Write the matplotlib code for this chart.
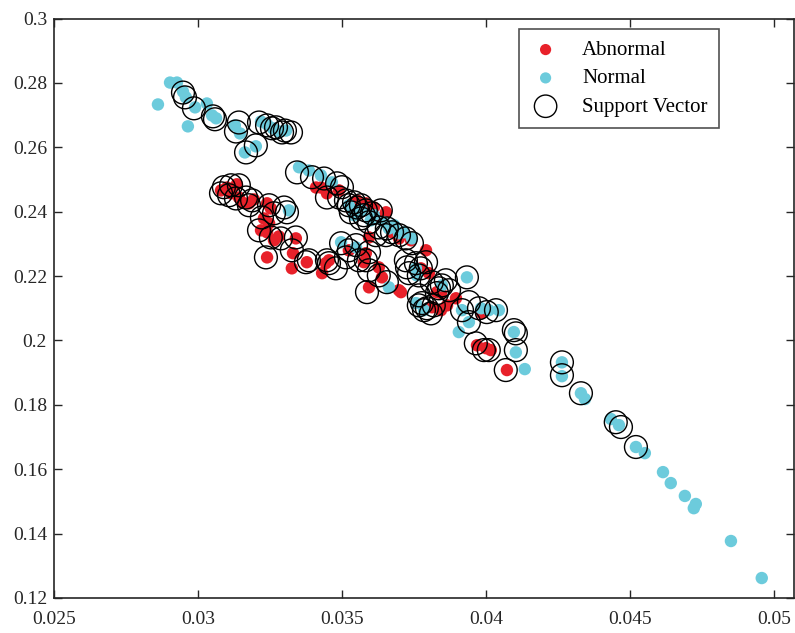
import matplotlib
matplotlib.use("Agg")
import matplotlib.pyplot as plt
from matplotlib.ticker import FixedLocator

plt.rcParams['font.family'] = ['Liberation Serif', 'DejaVu Serif']

# Normal (cyan) samples
normal_x = [0.02861, 0.02903, 0.02927, 0.02965, 0.02948, 0.02958, 0.02990, 0.03031, 0.03049, 0.03063,
            0.03128, 0.03146, 0.03163, 0.03201, 0.03219, 0.03240, 0.03260, 0.03281, 0.03306, 0.03351,
            0.03385, 0.03427, 0.03465, 0.03316, 0.03497, 0.03549, 0.03569, 0.03542, 0.03600, 0.03663,
            0.03698, 0.03743, 0.03663, 0.03757, 0.03760, 0.03757, 0.03847, 0.03934, 0.03785, 0.03917,
            0.03906, 0.03941, 0.03983, 0.04010, 0.04045, 0.04097, 0.04104, 0.04135, 0.04264, 0.04264,
            0.04330, 0.04344, 0.04434, 0.04462, 0.04521, 0.04552, 0.04615, 0.04642, 0.04691, 0.04729,
            0.04722, 0.04851, 0.04958, 0.03524, 0.03611, 0.03646, 0.03681, 0.03715]
normal_y = [0.2733, 0.2801, 0.2801, 0.2665, 0.2773, 0.2755, 0.2724, 0.2736, 0.2699, 0.2690,
            0.2668, 0.2643, 0.2584, 0.2603, 0.2680, 0.2671, 0.2659, 0.2649, 0.2652, 0.2538,
            0.2528, 0.2513, 0.2491, 0.2404, 0.2305, 0.2289, 0.2404, 0.2389, 0.2373, 0.2348,
            0.2333, 0.2317, 0.2165, 0.2224, 0.2202, 0.2116, 0.2171, 0.2196, 0.2094, 0.2094,
            0.2026, 0.2057, 0.2100, 0.2094, 0.2094, 0.2026, 0.1963, 0.1911, 0.1932, 0.1889,
            0.1836, 0.1818, 0.1756, 0.1737, 0.1669, 0.1650, 0.1591, 0.1557, 0.1517, 0.1492,
            0.1479, 0.1377, 0.1262, 0.2420, 0.2389, 0.2367, 0.2358, 0.2336]

# Abnormal (red) samples
abnormal_x = [0.03080, 0.03101, 0.03135, 0.03115, 0.03142, 0.03153, 0.03177, 0.03194, 0.03240, 0.03253,
              0.03229, 0.03247, 0.03219, 0.03240, 0.03264, 0.03281, 0.03340, 0.03240, 0.03330, 0.03326,
              0.03378, 0.03444, 0.03431, 0.03455, 0.03524, 0.03583, 0.03576, 0.03628, 0.03639, 0.03594,
              0.03698, 0.03792, 0.03698, 0.03410, 0.03427, 0.03448, 0.03490, 0.03535, 0.03583, 0.03653,
              0.03552, 0.03611, 0.03635, 0.03594, 0.03674, 0.03740, 0.03705, 0.03802, 0.03844, 0.03830,
              0.03813, 0.03844, 0.03865, 0.03896, 0.03986, 0.03969, 0.04000, 0.04017, 0.04073, 0.03774]
abnormal_y = [0.2466, 0.2475, 0.2485, 0.2457, 0.2444, 0.2429, 0.2426, 0.2438, 0.2426, 0.2410,
              0.2379, 0.2364, 0.2342, 0.2336, 0.2311, 0.2323, 0.2317, 0.2258, 0.2271, 0.2224,
              0.2243, 0.2240, 0.2209, 0.2249, 0.2280, 0.2271, 0.2243, 0.2227, 0.2196, 0.2165,
              0.2156, 0.2280, 0.2317, 0.2475, 0.2475, 0.2457, 0.2466, 0.2404, 0.2426, 0.2398,
              0.2435, 0.2413, 0.2379, 0.2320, 0.2336, 0.2311, 0.2150, 0.2209, 0.2147, 0.2150,
              0.2103, 0.2094, 0.2109, 0.2131, 0.2085, 0.1985, 0.1976, 0.1970, 0.1908, 0.2224]

# Support vectors
sv_x = [0.02948, 0.02955, 0.02986, 0.03052, 0.03059, 0.03132, 0.03142, 0.03167, 0.03201, 0.03212,
        0.03240, 0.03257, 0.03271, 0.03292, 0.03302, 0.03323, 0.03344, 0.03396, 0.03438, 0.03483,
        0.03500, 0.03448, 0.03490, 0.03090, 0.03115, 0.03142, 0.03080, 0.03108, 0.03132, 0.03167,
        0.03188, 0.03177, 0.03247, 0.03299, 0.03309, 0.03222, 0.03264, 0.03212, 0.03253, 0.03288,
        0.03340, 0.03236, 0.03326, 0.03375, 0.03448, 0.03497, 0.03524, 0.03549, 0.03514, 0.03559,
        0.03594, 0.03628, 0.03587, 0.03656, 0.03385, 0.03455, 0.03479, 0.03583, 0.03594, 0.03524,
        0.03552, 0.03583, 0.03604, 0.03635, 0.03566, 0.03594, 0.03628, 0.03656, 0.03674, 0.03698,
        0.03722, 0.03743, 0.03618, 0.03653, 0.03514, 0.03542, 0.03566, 0.03531, 0.03576, 0.03722,
        0.03757, 0.03774, 0.03792, 0.03733, 0.03767, 0.03812, 0.03837, 0.03861, 0.03767, 0.03778,
        0.03795, 0.03726, 0.03847, 0.03830, 0.03872, 0.03934, 0.03767, 0.03785, 0.03809, 0.03819,
        0.03941, 0.03917, 0.03941, 0.03976, 0.04003, 0.04035, 0.04097, 0.04104, 0.03965, 0.03993,
        0.04010, 0.04104, 0.04069, 0.04264, 0.04264, 0.04330, 0.04451, 0.04469, 0.04521]
sv_y = [0.2770, 0.2755, 0.2721, 0.2696, 0.2687, 0.2649, 0.2677, 0.2584, 0.2606, 0.2677,
        0.2668, 0.2659, 0.2662, 0.2646, 0.2652, 0.2646, 0.2522, 0.2507, 0.2503, 0.2488,
        0.2476, 0.2444, 0.2444, 0.2476, 0.2482, 0.2482, 0.2457, 0.2451, 0.2441, 0.2444,
        0.2435, 0.2420, 0.2420, 0.2413, 0.2398, 0.2382, 0.2395, 0.2342, 0.2320, 0.2317,
        0.2320, 0.2258, 0.2280, 0.2243, 0.2249, 0.2302, 0.2280, 0.2296, 0.2258, 0.2249,
        0.2274, 0.2202, 0.2150, 0.2181, 0.2249, 0.2240, 0.2224, 0.2249, 0.2218, 0.2420,
        0.2413, 0.2404, 0.2395, 0.2404, 0.2379, 0.2367, 0.2351, 0.2348, 0.2336, 0.2327,
        0.2317, 0.2302, 0.2327, 0.2327, 0.2435, 0.2429, 0.2420, 0.2398, 0.2389, 0.2249,
        0.2240, 0.2224, 0.2243, 0.2209, 0.2202, 0.2181, 0.2162, 0.2187, 0.2140, 0.2116,
        0.2100, 0.2227, 0.2171, 0.2147, 0.2156, 0.2196, 0.2109, 0.2094, 0.2084, 0.2109,
        0.2119, 0.2094, 0.2057, 0.2100, 0.2088, 0.2094, 0.2032, 0.2022, 0.1991, 0.1970,
        0.1970, 0.1970, 0.1908, 0.1932, 0.1892, 0.1836, 0.1746, 0.1731, 0.1669]

x_ticks = [0.025, 0.03, 0.035, 0.04, 0.045, 0.05]
x_tick_labels = ['0.025', '0.03', '0.035', '0.04', '0.045', '0.05']
y_ticks = [0.12, 0.14, 0.16, 0.18, 0.2, 0.22, 0.24, 0.26, 0.28, 0.3]
y_tick_labels = ['0.12', '0.14', '0.16', '0.18', '0.2', '0.22', '0.24', '0.26', '0.28', '0.3']

RED = '#E8212A'
CYAN = '#6CCBDC'

fig = plt.figure(figsize=(7.95, 6.33), dpi=100)
ax = fig.add_axes([54 / 795, 35 / 633, (794 - 54) / 795, (598 - 18.5) / 633])

ax.scatter(abnormal_x, abnormal_y, s=80, c=RED, edgecolors='none', label='Abnormal', zorder=2)
ax.scatter(normal_x, normal_y, s=80, c=CYAN, edgecolors='none', label='Normal', zorder=2)
ax.scatter(sv_x, sv_y, s=270, facecolors='none', edgecolors='black', linewidths=1.0,
           label='Support Vector', zorder=3)

ax.set_xlim(0.025, 0.0507)
ax.set_ylim(0.12, 0.3)
ax.xaxis.set_major_locator(FixedLocator(x_ticks))
ax.yaxis.set_major_locator(FixedLocator(y_ticks))
ax.set_xticklabels(x_tick_labels)
ax.set_yticklabels(y_tick_labels)
ax.tick_params(direction='in', length=6, width=1.0, colors='#262626', labelsize=14,
               top=True, right=True, labelcolor='#262626')
ax.tick_params(axis='x', pad=9)
ax.tick_params(axis='y', pad=5)
for sp in ax.spines.values():
    sp.set_linewidth(1.2)
    sp.set_color('#262626')

leg = ax.legend(loc='upper right', bbox_to_anchor=((719 - 54) / 740, (598 - 29) / 579.5),
                frameon=True, fancybox=False, edgecolor='#262626', fontsize=15,
                borderpad=0.55, labelspacing=0.42, handlelength=1.5, handletextpad=1.0,
                borderaxespad=0, markerscale=1.0)
leg.get_frame().set_linewidth(1.2)
leg.legend_handles[0].set_sizes([65])
leg.legend_handles[1].set_sizes([65])
leg.legend_handles[2].set_sizes([260])

fig.savefig('out.png', dpi=100)
